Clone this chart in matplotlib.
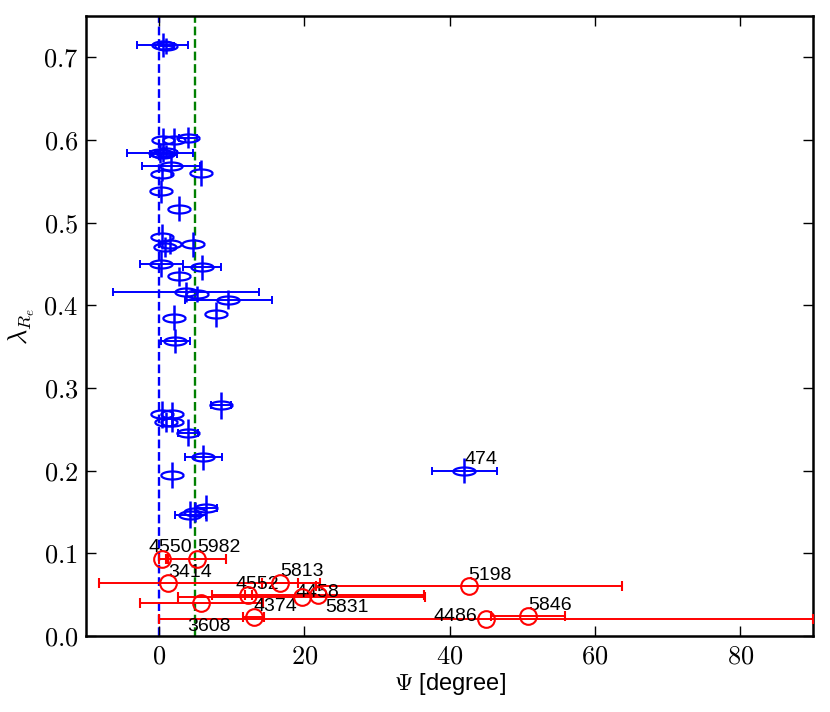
import matplotlib
matplotlib.use('Agg')
import matplotlib.pyplot as plt
import numpy as np

plt.rcParams['mathtext.fontset'] = 'cm'
plt.rcParams['font.family'] = ['Liberation Sans', 'DejaVu Sans']

# fast rotators (blue): psi, lambda, psi error, lambda error
blue_psi = np.array([0.5, 1.0, 0.6, 2.0, 4.0, 0.1, 0.6, 1.0, 1.6, 5.7, 0.4, 0.2, 2.8,
                     0.45, 1.5, 0.8, 4.7, 0.3, 5.9, 2.7, 3.7, 5.2, 9.5, 7.8, 2.1, 2.2,
                     8.5, 0.4, 1.8, 1.0, 1.8, 4.0, 6.1, 1.8, 6.5, 4.3, 5.0, 42.0])
blue_lam = np.array([0.715, 0.714, 0.600, 0.600, 0.603, 0.584, 0.583, 0.586, 0.569, 0.560,
                     0.559, 0.538, 0.517, 0.483, 0.474, 0.471, 0.474, 0.450, 0.446, 0.435,
                     0.416, 0.414, 0.407, 0.389, 0.385, 0.357, 0.279, 0.268, 0.268, 0.259,
                     0.259, 0.246, 0.216, 0.195, 0.155, 0.147, 0.150, 0.200])
blue_psi_err = np.array([3.5, 1.0, 0.0, 0.0, 1.2, 4.5, 1.8, 0.0, 4.0, 0.0, 0.0, 0.0, 0.0,
                         0.0, 0.0, 0.0, 0.0, 3.0, 2.6, 0.0, 10.0, 0.0, 6.0, 0.0, 0.0, 2.0,
                         1.4, 0.0, 0.0, 0.0, 0.0, 1.4, 2.5, 0.0, 1.5, 2.1, 0.0, 4.5])
blue_lam_err = np.array([0.015, 0.010, 0.014, 0.015, 0.013, 0.012, 0.010, 0.008, 0.012, 0.016,
                         0.008, 0.014, 0.015, 0.015, 0.012, 0.012, 0.015, 0.016, 0.015, 0.012,
                         0.012, 0.010, 0.012, 0.015, 0.015, 0.015, 0.016, 0.016, 0.015, 0.012,
                         0.012, 0.016, 0.015, 0.016, 0.016, 0.016, 0.012, 0.015])
blue_names = {37: '474'}

# slow rotators (red)
red_names = ['4550', '5982', '3414', '5813', '4552', '4458', '5831', '3608', '4374',
             '5198', '4486', '5846']
red_psi = np.array([0.45, 5.2, 1.2, 16.6, 12.3, 19.6, 21.9, 5.8, 13.0, 42.6, 45.0, 50.8])
red_lam = np.array([0.093, 0.0937, 0.0636, 0.0647, 0.0499, 0.0477, 0.0497, 0.0394, 0.0233,
                    0.060, 0.0205, 0.0245])
red_err_lo = np.array([0.5, 4.0, 9.5, 2.5, 0.5, 17.0, 14.6, 8.5, 1.5, 21.0, 45.0, 5.1])
red_err_hi = np.array([0.5, 4.0, 21.0, 2.5, 0.5, 17.0, 14.6, 8.5, 1.5, 21.1, 45.0, 5.1])
# label offsets in points
red_dx = [-10, 0, 0, 0, -9.5, -4.5, 5, -10, 0, 0, -6, 0]
red_dy = [5, 4.5, 4.7, 4.5, 4.5, 0, -12.5, -19.5, 4.5, 4.8, -1.2, 4.5]
red_ha = ['left'] * 10 + ['right', 'left']

fig = plt.figure(figsize=(8.3, 7.12), dpi=100)
ax = fig.add_axes([0.1042, 0.1067, 0.8753, 0.8708])

ax.axvline(0, color='b', ls='--', lw=1.7, zorder=1)
ax.axvline(5, color='g', ls='--', lw=1.7, zorder=1)

t = np.linspace(0, 2 * np.pi, 61)
ellipse = np.column_stack([np.cos(t), 0.36 * np.sin(t)])

has_x = blue_psi_err > 0
ax.errorbar(blue_psi[has_x], blue_lam[has_x], xerr=blue_psi_err[has_x], fmt='none',
            ecolor='b', elinewidth=1.4, capsize=3, capthick=1.4, zorder=2)
ax.errorbar(blue_psi, blue_lam, yerr=blue_lam_err, fmt='none', ecolor='b',
            elinewidth=1.8, capsize=0, zorder=2)
ax.plot(blue_psi, blue_lam, ls='none', marker=ellipse, ms=16, mfc='none', mec='b',
        mew=1.6, zorder=3)
for i, name in blue_names.items():
    ax.annotate(name, (blue_psi[i], blue_lam[i]), xytext=(0, 4.5), textcoords='offset points',
                ha='left', va='baseline', fontsize=14)

ax.errorbar(red_psi, red_lam, xerr=[red_err_lo, red_err_hi], fmt='o', mfc='none', mec='r',
            ms=12, mew=1.5, ecolor='r', elinewidth=1.4, capsize=3.5, capthick=1.3, zorder=3)
for i, name in enumerate(red_names):
    ax.annotate(name, (red_psi[i], red_lam[i]), xytext=(red_dx[i], red_dy[i]),
                textcoords='offset points', ha=red_ha[i], va='baseline', fontsize=14)

ax.set_xlim(-10, 90)
ax.set_ylim(0, 0.75)
ax.set_xticks([0, 20, 40, 60, 80])
ax.set_yticks(np.arange(0, 0.71, 0.1))
ax.set_xticklabels(['$%d$' % v for v in [0, 20, 40, 60, 80]])
ax.set_yticklabels(['$%.1f$' % v for v in np.arange(0, 0.71, 0.1)])
ax.tick_params(direction='in', length=7, width=1, top=True, right=True, labelsize=19, pad=6)
for s in ax.spines.values():
    s.set_linewidth(1.8)

ax.set_xlabel(r'$\Psi$ [degree]', fontsize=17, labelpad=2)
ax.set_ylabel(r'$\lambda_{R_e}$', fontsize=19, labelpad=4)

fig.savefig('out.png', dpi=100)
